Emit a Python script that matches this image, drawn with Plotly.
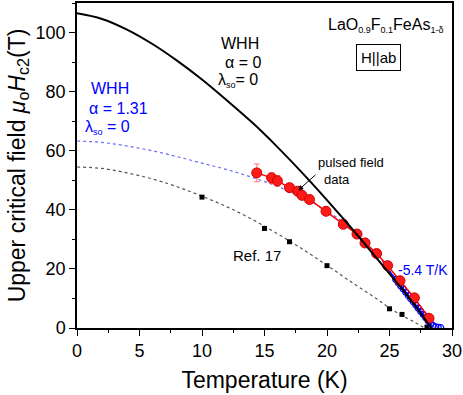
import plotly.graph_objects as go

# WHH curve, alpha = 0, lambda_so = 0 (black solid)
whh0_T = [0, 2, 4, 6, 8, 10, 12, 14, 16, 18, 20, 22, 24, 26, 27, 28, 28.35]
whh0_H = [106.5, 104.6, 101.0, 96.2, 90.5, 84.1, 77.0, 69.6, 61.4, 52.6, 43.3, 33.6, 23.5, 13.2, 7.8, 2.0, 0]

# WHH curve, alpha = 1.31 (blue dotted)
whh1_T = [0, 2, 4, 6, 8, 10, 12, 14, 16, 18, 20, 22, 24, 26, 27, 28, 28.3]
whh1_H = [63.3, 62.8, 61.6, 60.0, 58.0, 55.8, 53.6, 51.0, 48.0, 44.3, 39.6, 33.4, 24.8, 13.5, 7.5, 1.5, 0]

# fit to Ref. 17 data (black dashed)
ref_fit_T = [0, 2, 4, 6, 8, 10, 12, 14, 16, 18, 20, 22, 24, 25, 26, 27, 27.8]
ref_fit_H = [54.5, 54.0, 52.5, 50.5, 47.8, 44.6, 41.0, 36.8, 32.0, 26.8, 21.2, 15.4, 9.8, 6.8, 4.2, 2.0, 0]

# Ref. 17 points (black squares)
ref_T = [10, 15, 17, 20, 25, 26, 28]
ref_H = [44.3, 33.7, 29.2, 21.1, 6.5, 4.6, 0.3]

# pulsed field data (red)
pulse_T = [14.38, 15.57, 16.03, 17.0, 17.65, 18.0, 18.6, 19.92, 21.3, 22.4, 23.04, 23.97, 24.85, 25.84, 26.99, 28.16]
pulse_H = [52.5, 50.8, 49.8, 47.5, 46.3, 44.9, 43.5, 39.5, 35.1, 31.8, 28.8, 25.2, 21.1, 16.0, 10.2, 3.3]
pulse_err = [3.0, 1.8, 1.8, 0.6, 0.6, 0.6, 0.6, 0.6, 0.6, 0.6, 0.6, 0.6, 0.6, 0.6, 0.6, 0.6]

# low field data (blue open circles)
low_T = [25.5, 25.7, 25.9, 26.1, 26.3, 26.5, 26.7, 26.9, 27.1, 27.3, 27.5, 27.7, 27.9, 28.1, 28.3, 28.5, 28.7, 28.9, 29.1]
low_H = [16.4, 15.3, 14.2, 13.2, 12.1, 11.0, 9.9, 8.9, 7.8, 6.7, 5.6, 4.6, 3.5, 2.4, 1.4, 0.8, 0.4, 0.2, 0.1]

# -5.4 T/K slope line
slope_T = [25.0, 28.4]
slope_H = [19.2, 0.8]

font = "Liberation Sans, Arial, sans-serif"

fig = go.Figure()
fig.add_trace(go.Scatter(x=whh1_T, y=whh1_H, mode="lines", line=dict(color="#6a6aff", width=1.2, dash="dot"), line_shape="spline"))
fig.add_trace(go.Scatter(x=ref_fit_T, y=ref_fit_H, mode="lines", line=dict(color="#555555", width=1.2, dash="dot"), line_shape="spline"))
fig.add_trace(go.Scatter(x=ref_T, y=ref_H, mode="markers", marker=dict(symbol="square", size=5, color="black")))
fig.add_trace(go.Scatter(x=low_T, y=low_H, mode="markers",
                         marker=dict(symbol="circle-open", size=6, color="blue", line=dict(width=1.2))))
fig.add_trace(go.Scatter(x=slope_T, y=slope_H, mode="lines", line=dict(color="blue", width=1.5)))
fig.add_trace(go.Scatter(x=pulse_T, y=pulse_H, mode="lines+markers",
                         line=dict(color="red", width=1.5),
                         marker=dict(size=10, color="#ff1a1a", line=dict(color="#cc0000", width=1)),
                         error_y=dict(type="data", array=pulse_err, color="rgba(255,90,90,0.8)", thickness=1, width=3)))
fig.add_trace(go.Scatter(x=whh0_T, y=whh0_H, mode="lines", line=dict(color="black", width=2), line_shape="spline"))

ann = []
def txt(x, y, s, size=16, color="black", **kw):
    ann.append(dict(x=x, y=y, xref="x", yref="y", text=s, showarrow=False,
                    font=dict(family=font, size=size, color=color), **kw))

def small(s):
    return "<sub><span style='font-size:9px'>" + s + "</span></sub>"

txt(13.0, 96.3, "WHH")
txt(13.3, 89.9, "α = 0")
txt(12.9, 83.8, "λ" + small("so") + "= 0")
txt(2.6, 81.0, "WHH", color="blue")
txt(3.3, 74.2, "α = 1.31", color="blue")
txt(2.4, 68.0, "λ" + small("so") + " = 0", color="blue")
txt(24.7, 102.4, "LaO" + small("0.9") + "F" + small("0.1") + "FeAs" + small("1-δ"), size=16)
txt(24.1, 91.5, "H||ab", size=15, bordercolor="black", borderwidth=1, borderpad=4)
txt(21.9, 56.0, "pulsed field", size=13)
txt(20.8, 50.3, "data", size=13)
txt(14.4, 24.7, "Ref. 17", size=15)
txt(27.7, 19.6, "-5.4 T/K", size=14, color="blue")
ann.append(dict(x=17.7, y=46.6, ax=19.2, ay=52.3, xref="x", yref="y", axref="x", ayref="y",
                showarrow=True, arrowhead=2, arrowsize=1, arrowwidth=1, arrowcolor="black", text=""))

fig.update_layout(
    width=463, height=395,
    margin=dict(l=77, r=11, t=1, b=67),
    plot_bgcolor="white", paper_bgcolor="white",
    showlegend=False,
    font=dict(family=font, size=18, color="black"),
    annotations=ann,
)
fig.update_xaxes(range=[0, 30], dtick=5, ticks="outside", ticklen=6, tickwidth=1, tickcolor="black",
                 showline=True, linecolor="black", linewidth=1.5, mirror=True, showgrid=False, zeroline=False,
                 minor=dict(dtick=2.5, ticks="outside", ticklen=3, tickcolor="black"),
                 tickfont=dict(size=18),
                 title=dict(text="Temperature (K)", font=dict(size=23), standoff=12))
fig.update_yaxes(range=[0, 110], dtick=20, ticks="outside", ticklen=6, tickwidth=1, tickcolor="black",
                 showline=True, linecolor="black", linewidth=1.5, mirror=True, showgrid=False, zeroline=False,
                 minor=dict(dtick=10, ticks="outside", ticklen=3, tickcolor="black"),
                 tickfont=dict(size=18),
                 title=dict(text="Upper critical field <i>μ</i><sub>o</sub><i>H</i><sub>c2</sub>(T)", font=dict(size=23), standoff=4))

fig.write_html("out.html", config={"displayModeBar": False}, post_script="document.body.style.margin='0';")
